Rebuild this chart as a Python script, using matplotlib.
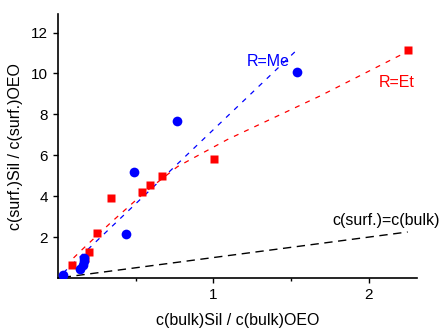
import numpy as np
import matplotlib
matplotlib.use('Agg')
from matplotlib import pyplot as plt
from matplotlib.ticker import FixedLocator

plt.rcParams['font.family'] = ['Liberation Sans', 'DejaVu Sans']

# R=Me (blue circles)
me_x = [0.034, 0.14, 0.158, 0.165, 0.17, 0.436, 0.489, 0.767, 1.536]
me_y = [0.17, 0.43, 0.65, 0.82, 1.0, 2.15, 5.19, 7.67, 10.05]
# R=Et (red squares)
et_x = [0.09, 0.173, 0.197, 0.248, 0.344, 0.543, 0.59, 0.671, 1.006, 2.25]
et_y = [0.63, 0.98, 1.28, 2.18, 3.9, 4.21, 4.54, 4.99, 5.8, 11.17]

# fit lines
me_fit_x = [0.034, 1.54]
me_fit_y = [0.25, 11.17]
et_fit_x = [0.1, 0.147, 0.34, 0.53, 0.617, 0.77, 1.09, 1.686, 2.23]
et_fit_y = [0.98, 1.33, 2.71, 4.0, 4.54, 5.45, 6.77, 8.9, 11.0]
ref_x = [0.03, 2.25]
ref_y = [0.03, 2.25]

fig = plt.figure(figsize=(4.41, 3.29), dpi=100)
ax = fig.add_axes([0.1315, 0.155, 0.8141, 0.802])

ax.plot(ref_x, ref_y, color='black', lw=1.0, dashes=(6, 4), zorder=2)
ax.plot(me_fit_x, me_fit_y, color='blue', lw=0.9, dashes=(4, 5), zorder=2)
ax.plot(et_fit_x, et_fit_y, color='red', lw=0.9, dashes=(4, 5), zorder=2)

ax.plot(et_x, et_y, 's', color='red', ms=6, mec='none', zorder=3)
ax.plot(me_x, me_y, 'o', color='blue', ms=7, mec='none', zorder=4)

ax.text(1.35, 10.6, 'R=Me', color='blue', fontsize=11.5, ha='center', va='center')
ax.text(2.18, 9.55, 'R=Et', color='red', fontsize=11.5, ha='center', va='center')
ax.text(2.455, 2.83, 'c(surf.)=c(bulk)', color='black', fontsize=11.5,
        ha='right', va='center', clip_on=False)

ax.set_xlim(0, 2.31)
ax.set_ylim(0, 12.9)
ax.xaxis.set_major_locator(FixedLocator([1, 2]))
ax.xaxis.set_minor_locator(FixedLocator([0.5, 1.5]))
ax.yaxis.set_major_locator(FixedLocator([2, 4, 6, 8, 10, 12]))
ax.tick_params(which='major', direction='out', length=3.6, width=1, labelsize=11)
ax.tick_params(which='minor', direction='out', length=2.2, width=1)

for s in ['top', 'right']:
    ax.spines[s].set_visible(False)
for s in ['left', 'bottom']:
    ax.spines[s].set_linewidth(1.2)

ax.set_xlabel('c(bulk)Sil / c(bulk)OEO', fontsize=11.5, labelpad=8)
ax.set_ylabel('c(surf.)Sil / c(surf.)OEO', fontsize=11.5, labelpad=6)

fig.savefig('out.png', dpi=100)
